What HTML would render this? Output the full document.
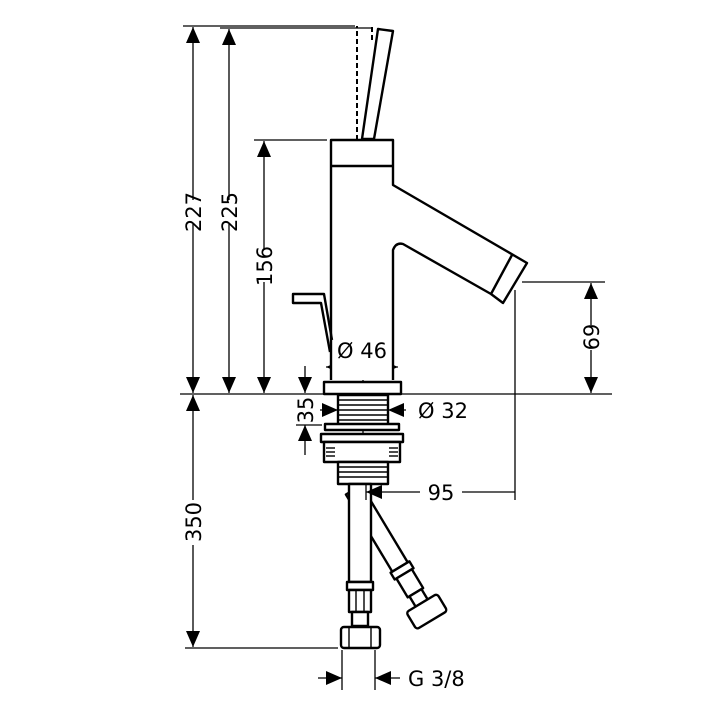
<!DOCTYPE html>
<html><head><meta charset="utf-8"><style>
html,body{margin:0;padding:0;background:#fff;}
svg{display:block;}
text{font-family:"DejaVu Sans","Liberation Sans",sans-serif;font-size:21px;fill:#000;}
</style></head><body>
<svg width="704" height="704" viewBox="0 0 704 704" xmlns="http://www.w3.org/2000/svg">
<defs>
<marker id="a" viewBox="0 0 16 14" refX="16" refY="7" markerWidth="16" markerHeight="14" markerUnits="userSpaceOnUse" orient="auto"><path d="M0,0 L16,7 L0,14 Z" fill="#000"/></marker>
</defs>
<g stroke="#000" stroke-width="1.3" fill="none">
<line x1="183" y1="26" x2="355" y2="26"/>
<line x1="220" y1="28" x2="372" y2="28"/>
<line x1="254" y1="140" x2="327" y2="140"/>
<line x1="180" y1="394" x2="612" y2="394"/>
<line x1="522" y1="282" x2="605" y2="282"/>
<line x1="515" y1="290" x2="515" y2="500"/>
<line x1="185" y1="648" x2="338" y2="648"/>
<line x1="342" y1="650" x2="342" y2="690"/>
<line x1="375" y1="650" x2="375" y2="690"/>
<line x1="193" y1="200" x2="193" y2="27" marker-end="url(#a)"/>
<line x1="193" y1="224" x2="193" y2="393" marker-end="url(#a)"/>
<line x1="229" y1="200" x2="229" y2="29" marker-end="url(#a)"/>
<line x1="229" y1="224" x2="229" y2="393" marker-end="url(#a)"/>
<line x1="264" y1="250" x2="264" y2="141" marker-end="url(#a)"/>
<line x1="264" y1="282" x2="264" y2="393" marker-end="url(#a)"/>
<line x1="193" y1="500" x2="193" y2="395" marker-end="url(#a)"/>
<line x1="193" y1="545" x2="193" y2="647" marker-end="url(#a)"/>
<line x1="591" y1="325" x2="591" y2="283" marker-end="url(#a)"/>
<line x1="591" y1="350" x2="591" y2="393" marker-end="url(#a)"/>
<line x1="305" y1="366" x2="305" y2="393" marker-end="url(#a)"/>
<line x1="305" y1="455" x2="305" y2="425" marker-end="url(#a)"/>
<line x1="296" y1="425" x2="322" y2="425"/>
<line x1="362" y1="367" x2="326" y2="367" marker-end="url(#a)"/>
<line x1="362" y1="367" x2="398" y2="367" marker-end="url(#a)"/>
<line x1="320" y1="410" x2="338" y2="410" marker-end="url(#a)"/>
<line x1="406" y1="410" x2="388" y2="410" marker-end="url(#a)"/>
<line x1="318" y1="678" x2="342" y2="678" marker-end="url(#a)"/>
<line x1="400" y1="678" x2="375" y2="678" marker-end="url(#a)"/>
<line x1="363" y1="378" x2="363" y2="488"/>
</g>
<g stroke="#000" stroke-width="2.4" fill="#fff" stroke-linejoin="round">
<polygon points="378,29 393,31 374,139 362,139"/>
<path d="M331,380 L331,140 L393,140 L393,185 L527,263 L503,303 L491,294 L403,244 Q396,242 393,250 L393,380" />
<line x1="331" y1="166" x2="393" y2="166"/>
<line x1="512" y1="255" x2="491" y2="294"/>
<path d="M330,352 L321,303 L293,303 L293,294 L324,294 L332,340" fill="none"/>
<rect x="324" y="382" width="77" height="12"/>
<rect x="338" y="395" width="50" height="30"/>
<rect x="325" y="424" width="74" height="6"/>
<rect x="321" y="434" width="82" height="8"/>
<rect x="324" y="442" width="76" height="20"/>
<rect x="338" y="462" width="50" height="22"/>
<!-- diagonal hose (behind) -->
<g transform="translate(400,567) rotate(-31)">
<rect x="-9" y="-90" width="18" height="90"/>
<rect x="-11" y="0" width="22" height="8"/>
<rect x="-9" y="8" width="18" height="22"/>
<rect x="-7" y="30" width="14" height="12"/>
<rect x="-18" y="42" width="36" height="20" rx="3"/>
</g>
<!-- vertical hose -->
<rect x="349" y="484" width="22" height="98"/>
<rect x="347" y="582" width="26" height="8"/>
<rect x="349" y="590" width="22" height="22"/>
<rect x="352" y="612" width="16" height="14"/>
<rect x="341" y="627" width="39" height="21" rx="3"/>
</g>
<g stroke="#000" stroke-width="1.3" fill="none">
<line x1="366" y1="483" x2="366" y2="500"/>
<line x1="420" y1="492" x2="366" y2="492" marker-end="url(#a)"/>
<line x1="462" y1="492" x2="515" y2="492"/>
</g>
<g stroke="#000" stroke-width="1.4">
<line x1="339" y1="400" x2="387" y2="400"/><line x1="339" y1="405" x2="387" y2="405"/>
<line x1="339" y1="410" x2="387" y2="410"/><line x1="339" y1="415" x2="387" y2="415"/>
<line x1="339" y1="420" x2="387" y2="420"/>
<line x1="339" y1="467" x2="387" y2="467"/><line x1="339" y1="472" x2="387" y2="472"/>
<line x1="339" y1="477" x2="387" y2="477"/>
<line x1="326" y1="448" x2="335" y2="448"/><line x1="326" y1="452" x2="335" y2="452"/><line x1="326" y1="456" x2="335" y2="456"/>
<line x1="389" y1="448" x2="398" y2="448"/><line x1="389" y1="452" x2="398" y2="452"/><line x1="389" y1="456" x2="398" y2="456"/>
<line x1="356" y1="590" x2="356" y2="612"/><line x1="364" y1="590" x2="364" y2="612"/>
<line x1="349" y1="628" x2="349" y2="647"/><line x1="371" y1="628" x2="371" y2="647"/>
<line x1="357" y1="140" x2="357" y2="26" stroke-dasharray="5,3" stroke-width="2"/>
<line x1="372" y1="27" x2="372" y2="40" stroke-dasharray="5,3" stroke-width="2"/>
</g>
<text transform="translate(201,212) rotate(-90)" text-anchor="middle">227</text>
<text transform="translate(237,212) rotate(-90)" text-anchor="middle">225</text>
<text transform="translate(272,266) rotate(-90)" text-anchor="middle">156</text>
<text transform="translate(201,522) rotate(-90)" text-anchor="middle">350</text>
<text transform="translate(599,337) rotate(-90)" text-anchor="middle">69</text>
<text transform="translate(313,410) rotate(-90)" text-anchor="middle">35</text>
<text x="362" y="358" text-anchor="middle">Ø 46</text>
<text x="418" y="418">Ø 32</text>
<text x="441" y="500" text-anchor="middle">95</text>
<text x="408" y="686">G 3/8</text>
</svg>
</body></html>
